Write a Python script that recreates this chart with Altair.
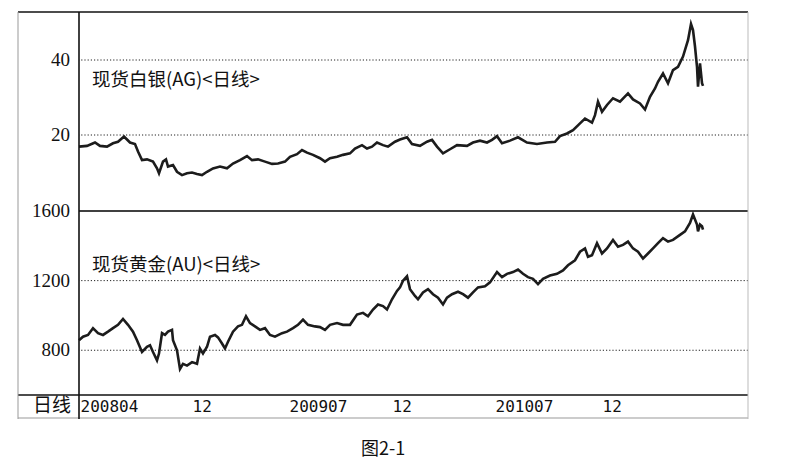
import altair as alt
import pandas as pd

# silver (AG), daily bars
ag_bar = [
    0, 8, 16, 21, 28, 34, 39, 45, 51, 56,
    59, 63, 68, 74, 78, 80, 84, 87, 89, 94,
    98, 103, 108, 113, 118, 123, 128, 134, 141, 148,
    154, 161, 168, 173, 179, 186, 193, 199, 206, 211,
    218, 223, 228, 234, 241, 246, 251, 258, 264, 271,
    276, 283, 288, 293, 298, 304, 309, 316, 321, 328,
    333, 341, 348, 353, 358, 364, 371, 378, 388, 394,
    401, 408, 413, 418, 423, 431, 439, 448, 458, 468,
    476, 481, 488, 494, 501, 506, 513, 516, 519, 523,
    528, 534, 541, 549, 554, 561, 566, 571, 576, 579,
    584, 589, 594, 599, 604, 609, 612, 614, 616, 618,
    619, 621, 623, 624,
]
ag_price = [
    16.9, 17.1, 18.0, 17.1, 16.9, 17.8, 18.2, 19.6, 18.0, 17.6,
    15.6, 13.3, 13.5, 12.9, 11.1, 9.8, 12.9, 13.5, 11.6, 12.0,
    10.2, 9.3, 9.8, 10.0, 9.6, 9.3, 10.2, 11.1, 11.6, 11.1,
    12.4, 13.3, 14.4, 13.3, 13.5, 12.9, 12.3, 12.4, 12.9, 14.2,
    14.9, 16.0, 15.3, 14.7, 13.8, 12.9, 13.8, 14.2, 14.7, 15.1,
    16.4, 17.3, 16.4, 16.9, 18.0, 17.3, 16.9, 18.2, 18.8, 19.4,
    17.6, 17.1, 18.2, 18.7, 16.9, 15.1, 16.2, 17.3, 17.1, 18.0,
    18.5, 18.0, 18.7, 19.7, 17.8, 18.5, 19.4, 18.0, 17.6, 18.0,
    18.2, 19.7, 20.4, 21.3, 23.1, 24.4, 23.3, 25.3, 28.9, 26.2,
    28.0, 29.8, 28.9, 31.1, 29.5, 28.4, 26.8, 30.2, 32.4, 34.2,
    36.4, 33.8, 37.3, 38.2, 40.9, 45.3, 49.6, 48.0, 43.6, 38.2,
    32.9, 39.1, 33.8, 33.1,
]

# gold (AU)
au_bar = [
    0, 4, 9, 14, 19, 24, 29, 34, 39, 44,
    49, 54, 58, 63, 68, 71, 74, 78, 80, 83,
    86, 89, 93, 94, 98, 101, 104, 108, 113, 118,
    121, 124, 128, 131, 136, 139, 143, 146, 149, 154,
    159, 163, 167, 171, 176, 181, 186, 191, 196, 203,
    208, 214, 219, 224, 229, 236, 241, 246, 251, 258,
    264, 271, 278, 284, 289, 294, 299, 304, 308, 313,
    318, 321, 324, 328, 331, 336, 339, 344, 349, 354,
    359, 364, 368, 373, 379, 384, 389, 394, 399, 406,
    411, 418, 423, 428, 434, 439, 444, 449, 454, 459,
    464, 471, 478, 484, 489, 496, 501, 506, 509, 513,
    518, 523, 528, 534, 539, 544, 549, 554, 559, 564,
    569, 574, 579, 584, 589, 594, 601, 606, 611, 614,
    618, 619, 621, 623, 624,
]
au_price = [
    858, 878, 888, 927, 898, 888, 907, 927, 946, 980,
    946, 907, 858, 790, 820, 829, 790, 742, 781, 898,
    888, 907, 917, 858, 800, 693, 722, 712, 732, 722,
    810, 781, 820, 878, 888, 874, 839, 810, 849, 907,
    937, 946, 995, 956, 937, 917, 927, 888, 878, 898,
    907, 927, 946, 976, 946, 937, 933, 917, 946, 956,
    946, 946, 1005, 1015, 995, 1034, 1063, 1054, 1034, 1093,
    1141, 1161, 1200, 1225, 1151, 1112, 1093, 1132, 1151, 1122,
    1102, 1063, 1102, 1122, 1136, 1122, 1102, 1132, 1161, 1167,
    1190, 1249, 1220, 1239, 1249, 1264, 1239, 1220, 1210, 1180,
    1210, 1229, 1239, 1259, 1288, 1317, 1366, 1385, 1337, 1346,
    1415, 1356, 1385, 1434, 1395, 1405, 1424, 1385, 1366, 1327,
    1356, 1385, 1415, 1444, 1424, 1434, 1463, 1483, 1532, 1580,
    1522, 1483, 1522, 1512, 1493,
]

ag_grid = [20, 40]
au_grid = [800, 1200]
au_top = [1600]
x_ticks = [1, 113, 210, 313, 416, 523]
x_labels = ["200804", "12", "200907", "12", "201007", "12"]

W, H = 669, 383
INK = "#1c1c1c"
CJK = "Noto Sans CJK SC"

x_scale = alt.Scale(domain=[0, W], nice=False, zero=False)
ag_scale = alt.Scale(domain=[-49.33, 52.8], nice=False, zero=False)
au_scale = alt.Scale(domain=[543, 2743], nice=False, zero=False)

label_expr = "".join(
    f"datum.value == {v} ? '{t}' : " for v, t in zip(x_ticks, x_labels)
) + "''"
x_axis = alt.Axis(
    values=x_ticks, labelExpr=label_expr, labelAlign="left", labelBaseline="top",
    ticks=False, domain=False, grid=False, title=None, labelPadding=3,
    labelFont="DejaVu Sans Mono", labelFontSize=16, labelColor="#111",
    labelFlush=False, labelOverlap=False,
)

ag_df = pd.DataFrame({"bar": ag_bar, "price": ag_price})
au_df = pd.DataFrame({"bar": au_bar, "price": au_price})

ag_line = alt.Chart(ag_df).mark_line(color=INK, strokeWidth=2.6).encode(
    x=alt.X("bar:Q", scale=x_scale, axis=x_axis),
    y=alt.Y("price:Q", scale=ag_scale, axis=None),
)
au_line = alt.Chart(au_df).mark_line(color=INK, strokeWidth=2.6).encode(
    x=alt.X("bar:Q", scale=x_scale, axis=x_axis),
    y=alt.Y("price:Q", scale=au_scale, axis=None),
)


def grid(values, scale, dash=True):
    mark = dict(color="#000", strokeWidth=1.6)
    if dash:
        mark.update(color="#222", strokeDash=[1.2, 2], strokeWidth=1)
    return alt.Chart(pd.DataFrame({"v": values})).mark_rule(**mark).encode(
        y=alt.Y("v:Q", scale=scale, axis=None)
    )


def ticklabels(values, scale):
    df = pd.DataFrame({"v": values, "t": [str(v) for v in values]})
    return alt.Chart(df).mark_text(
        align="right", baseline="middle", font="Liberation Serif",
        fontSize=19, color="#111",
    ).encode(x=alt.value(-9), y=alt.Y("v:Q", scale=scale, axis=None), text="t:N")


one = pd.DataFrame({"k": [0]})


def hline(y, color, width=1.0):
    return alt.Chart(one).mark_rule(color=color, strokeWidth=width).encode(
        x=alt.value(-61), x2=alt.value(W), y=alt.value(y)
    )


def vline(x, color, width=1.0):
    return alt.Chart(one).mark_rule(color=color, strokeWidth=width).encode(
        x=alt.value(x), y=alt.value(0), y2=alt.value(407)
    )


def note(text, x, y, size, align="left"):
    return alt.Chart(one).mark_text(
        align=align, baseline="middle", font=CJK, fontSize=size, color="#111"
    ).encode(x=alt.value(x), y=alt.value(y), text=alt.value(text))


chart = alt.layer(
    grid(ag_grid, ag_scale),
    grid(au_grid, au_scale),
    grid(au_top, au_scale, dash=False),
    ag_line,
    au_line,
    ticklabels(ag_grid, ag_scale),
    ticklabels(au_top + au_grid, au_scale),
    hline(0, "#111", 1.3),
    hline(H, "#111", 1.6),
    hline(406, "#999"),
    vline(-61, "#999"),
    vline(W, "#bbb"),
    vline(0, "#111", 1.6),
    note("现货白银(AG)<日线>", 13, 68, 18.5),
    note("现货黄金(AU)<日线>", 13, 253, 18.5),
    note("日线", -8, 394, 19, align="right"),
    note("图2-1", 304, 438, 18, align="center"),
).resolve_scale(
    y="independent"
).properties(
    width=W,
    height=H,
    autosize=alt.AutoSizeParams(type="none"),
    padding={"left": 71, "top": 4, "right": 30, "bottom": 70},
    background="white",
).configure_view(stroke=None)

chart.save("out.html", embed_options={"renderer": "svg", "actions": False})
